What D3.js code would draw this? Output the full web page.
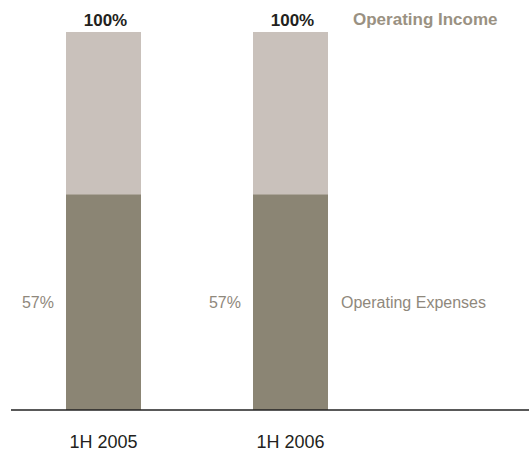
<!DOCTYPE html>
<html lang="en">
<head>
<meta charset="UTF-8">
<title>Operating Income vs Expenses</title>
<script src="https://cdn.jsdelivr.net/npm/d3@7"></script>
<style>
  body { margin: 0; background: #fff; }
  svg text { font-family: "Liberation Sans", Arial, sans-serif; }
</style>
</head>
<body>
<div id="chart"></div>
<script>
  const categories = ['1H 2005', '1H 2006'];
  const totals = [100, 100];      // Operating Income
  const expenses = [57, 57];      // Operating Expenses
  const seriesNames = ['Operating Income', 'Operating Expenses'];

  const width = 529, height = 452;
  const svg = d3.select('#chart').append('svg')
    .attr('width', width).attr('height', height);

  const x = d3.scalePoint().domain(categories).range([103.5, 290.5]);
  const barW = 75;
  const y = d3.scaleLinear().domain([0, 100]).range([410, 32]);

  // total (light) bars
  svg.selectAll('rect.total').data(categories).enter().append('rect')
    .attr('class', 'total')
    .attr('x', d => x(d) - barW / 2)
    .attr('width', barW)
    .attr('y', (d, i) => y(totals[i]))
    .attr('height', (d, i) => y(0) - y(totals[i]))
    .attr('fill', '#c9c1bb');

  // expense (dark) bars
  svg.selectAll('rect.exp').data(categories).enter().append('rect')
    .attr('class', 'exp')
    .attr('x', d => x(d) - barW / 2)
    .attr('width', barW)
    .attr('y', (d, i) => y(expenses[i]))
    .attr('height', (d, i) => y(0) - y(expenses[i]))
    .attr('fill', '#8b8574');

  // axis line
  svg.append('line')
    .attr('x1', 11).attr('x2', width)
    .attr('y1', y(0)).attr('y2', y(0))
    .attr('stroke', '#222').attr('stroke-width', 1.3);

  // top labels
  svg.selectAll('text.top').data(categories).enter().append('text')
    .attr('x', d => x(d) + 2)
    .attr('y', (d, i) => y(totals[i]) - 6)
    .attr('text-anchor', 'middle')
    .attr('font-size', 17).attr('font-weight', 'bold')
    .attr('fill', '#231f20')
    .text((d, i) => totals[i] + '%');

  // expense labels, left of each bar
  const expMid = i => (y(expenses[i]) + y(0)) / 2;
  svg.selectAll('text.exp').data(categories).enter().append('text')
    .attr('x', d => x(d) - barW / 2 - 12)
    .attr('y', (d, i) => expMid(i) + 6)
    .attr('text-anchor', 'end')
    .attr('font-size', 16)
    .attr('fill', '#8f887c')
    .text((d, i) => expenses[i] + '%');

  // series names on the right
  svg.append('text')
    .attr('x', 353).attr('y', y(totals[1]) - 7)
    .attr('font-size', 17).attr('font-weight', 'bold')
    .attr('fill', '#9a9182')
    .text(seriesNames[0]);
  svg.append('text')
    .attr('x', 341).attr('y', expMid(1) + 6)
    .attr('font-size', 16)
    .attr('fill', '#8f887c')
    .text(seriesNames[1]);

  // category labels
  svg.selectAll('text.cat').data(categories).enter().append('text')
    .attr('x', d => x(d))
    .attr('y', 448)
    .attr('text-anchor', 'middle')
    .attr('font-size', 18)
    .attr('fill', '#231f20')
    .text(d => d);
</script>
</body>
</html>
